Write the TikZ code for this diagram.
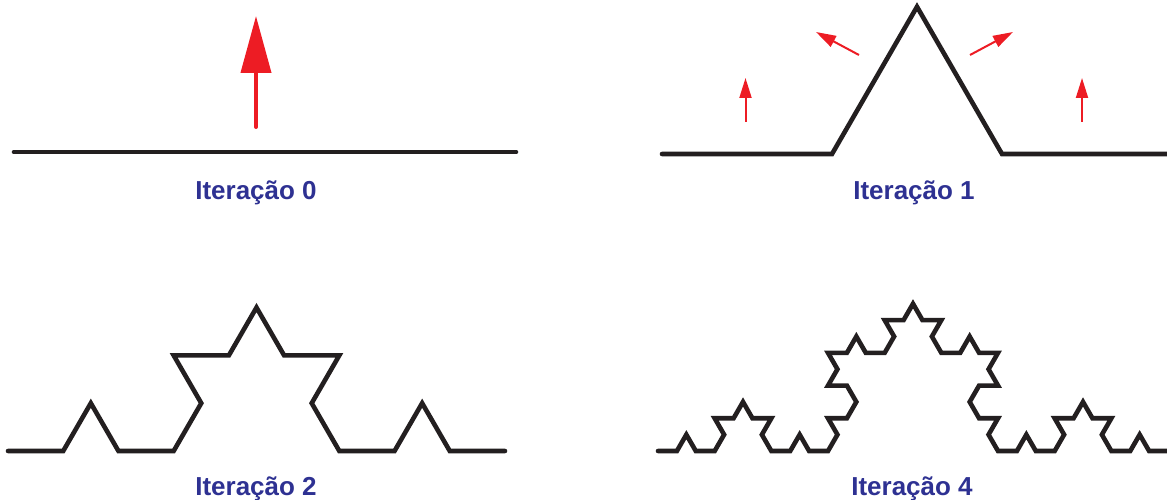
\documentclass[tikz,border=0pt]{standalone}
\usepackage{fontspec}
\setmainfont{Liberation Sans}
\usetikzlibrary{arrows.meta}
\definecolor{curveblack}{HTML}{231F20}
\definecolor{arrowred}{HTML}{ED1C24}
\definecolor{labelblue}{HTML}{2E3192}
\begin{document}
\begin{tikzpicture}[x=1pt,y=1pt,
  curve/.style={draw=curveblack,line width=4.6pt,line join=miter,line cap=round},
  bigarrow/.style={draw=arrowred,line width=4pt,line cap=round,
    -{Triangle[length=57pt,width=30pt]}},
  smallarrow/.style={draw=arrowred,line width=2pt,
    -{Triangle[length=20pt,width=12pt]}},
  caption/.style={text=labelblue,font=\fontsize{26}{30}\selectfont\bfseries,
    anchor=base,inner sep=0pt}]
\useasboundingbox (0,0) rectangle (1167,499);

% --- iteration 0: a single segment and its growth direction
\coordinate (s0a) at (14,347);
\coordinate (s0b) at (516,347);
\draw[curve] (s0a) -- (s0b);
\coordinate (a0from) at (256,372);
\coordinate (a0to) at (256,483);
\draw[bigarrow] (a0from) -- (a0to);
\node[caption] (cap0) at (256,300) {Iteração 0};

% --- iteration 1: four segments of one third each
\coordinate (s1a) at (662,345);
\draw[curve] (s1a) -- ++(0:170) -- ++(60:170) -- ++(-60:170) -- ++(0:170);
\coordinate (a1from) at (745.5,377);  \coordinate (a1to) at (745.5,421);
\coordinate (a2from) at (859,444);    \coordinate (a2to) at (816,467);
\coordinate (a3from) at (970,444);    \coordinate (a3to) at (1013,467);
\coordinate (a4from) at (1082,377);   \coordinate (a4to) at (1082,421);
\draw[smallarrow] (a1from) -- (a1to);
\draw[smallarrow] (a2from) -- (a2to);
\draw[smallarrow] (a3from) -- (a3to);
\draw[smallarrow] (a4from) -- (a4to);
\node[caption] (cap1) at (914,300) {Iteração 1};

% --- iteration 2: 16 segments
\coordinate (s2a) at (8,48);
\draw[curve] (s2a)
  \foreach \a in {0,60,-60,0} {
    \foreach \b in {0,60,-60,0} { -- ++({\a+\b}:55.22) }
  };
\node[caption] (cap2) at (256,4) {Iteração 2};

% --- deeper iteration: 64 segments
\coordinate (s3a) at (658,48);
\draw[curve] (s3a)
  \foreach \a in {0,60,-60,0} {
    \foreach \b in {0,60,-60,0} {
      \foreach \c in {0,60,-60,0} { -- ++({\a+\b+\c}:18.889) }
    }
  };
\node[caption] (cap3) at (912,4) {Iteração 4};
\end{tikzpicture}
\end{document}
